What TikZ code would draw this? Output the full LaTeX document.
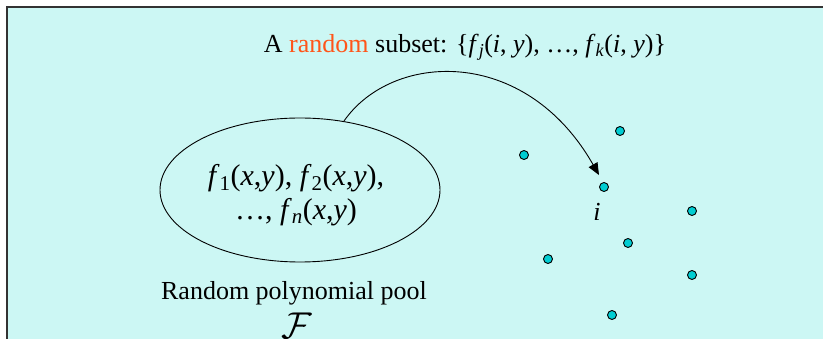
\documentclass[tikz,border=0pt]{standalone}
\usepackage{graphicx}
\usepackage{fontspec}
\setmainfont{Liberation Serif}
\usetikzlibrary{arrows.meta}
\definecolor{bgc}{RGB}{204,247,244}
\definecolor{rndc}{RGB}{255,85,25}
\definecolor{dotc}{RGB}{0,205,210}
\tikzset{
  pt/.style={circle,draw=black,fill=dotc,line width=0.9pt,minimum size=9pt,inner sep=0pt},
  lbl/.style={inner sep=0pt,font=\fontsize{26}{30}\selectfont}
}
\begin{document}
\begin{tikzpicture}[x=1pt,y=-1pt]
\useasboundingbox (0,0) rectangle (823,339);
\fill[bgc] (7,7) rectangle (830,345);
\draw[line width=1.6pt,black!80] (7,345) -- (7,7) -- (830,7);
% top text
\node[lbl] (sub) at (465,47) {A \textcolor{rndc}{random} subset: \{\textit{f}\textsubscript{\textit{j}}(\textit{i}, \textit{y}), …, \textit{f}\textsubscript{\textit{k}}(\textit{i}, \textit{y})\}};
% ellipse
\draw[line width=0.9pt] (300,190) ellipse [x radius=140, y radius=72];
\node[inner sep=0pt,font=\fontsize{30}{34}\selectfont,align=center] (pool) at (296,195)
  {\textit{f}\textsubscript{1}(\textit{x},\textit{y}), \textit{f}\textsubscript{2}(\textit{x},\textit{y}),\\ …, \textit{f}\textsubscript{\textit{n}}(\textit{x},\textit{y})};
\coordinate (start) at (344,121);
% points
\node[pt] (p1) at (620,131) {};
\node[pt] (p2) at (524,155) {};
\node[pt] (pi) at (604,187) {};
\node[pt] (p4) at (692,211) {};
\node[pt] (p5) at (628,243) {};
\node[pt] (p6) at (548,259) {};
\node[pt] (p7) at (692,275) {};
\node[pt] (p8) at (612,315) {};
\node[lbl] (ilbl) at (597,212) {\textit{i}};
\draw[line width=0.9pt,-{Triangle[length=12pt,width=10pt]}] (start) .. controls (392,52) and (525,45) .. ([xshift=-5pt,yshift=7pt]pi.north);
% captions
\node[lbl] (cap) at (294,293) {Random polynomial pool};
\node[inner sep=0pt,font=\fontsize{24}{28}\selectfont] (F) at (297,326) {\scalebox{1.5}{$\mathcal{F}$}};
\end{tikzpicture}
\end{document}
